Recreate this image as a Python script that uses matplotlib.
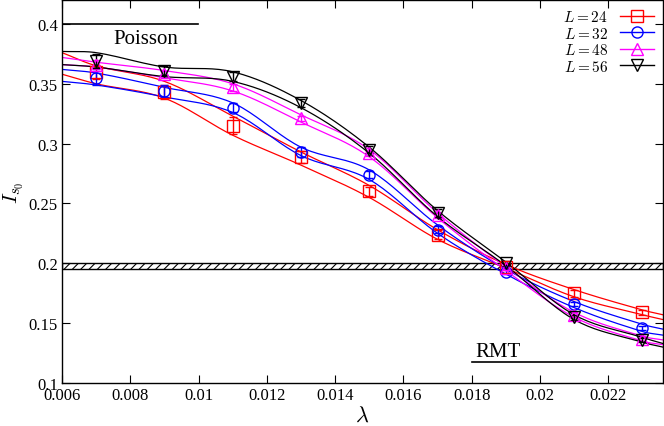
import numpy as np
import matplotlib
matplotlib.use("Agg")
import matplotlib.pyplot as plt
from matplotlib.lines import Line2D

plt.rcParams.update({"font.family": "serif", "font.serif": ["Liberation Serif", "DejaVu Serif"],
                     "mathtext.fontset": "cm", "hatch.linewidth": 0.8})

lam = [0.007, 0.009, 0.011, 0.013, 0.015, 0.017, 0.019, 0.021, 0.023]
band_x = [0.006, 0.007, 0.009, 0.011, 0.013, 0.015, 0.017, 0.019, 0.021, 0.023, 0.0236]

labels = ["$L = 24$", "$L = 32$", "$L = 48$", "$L = 56$"]
colors = ["#ff0000", "#0000ff", "#ff00ff", "#000000"]
markers = ["s", "o", "^", "v"]

I24 = [0.360, 0.343, 0.315, 0.289, 0.260, 0.224, 0.197, 0.175, 0.159]
I32 = [0.355, 0.344, 0.330, 0.293, 0.274, 0.228, 0.193, 0.166, 0.146]
I48 = [0.366, 0.358, 0.347, 0.321, 0.292, 0.240, 0.196, 0.157, 0.137]
I56 = [0.369, 0.361, 0.356, 0.334, 0.295, 0.242, 0.200, 0.155, 0.136]
E24 = [0.006, 0.006, 0.007, 0.005, 0.004, 0.004, 0.003, 0.003, 0.002]
E32 = [0.006, 0.005, 0.004, 0.004, 0.003, 0.003, 0.002, 0.002, 0.002]
E48 = [0.004, 0.003, 0.003, 0.002, 0.002, 0.002, 0.002, 0.002, 0.002]
E56 = [0.006, 0.004, 0.004, 0.003, 0.003, 0.003, 0.002, 0.002, 0.002]

U24 = [0.376, 0.365, 0.352, 0.323, 0.293, 0.265, 0.228, 0.199, 0.178, 0.161, 0.157]
D24 = [0.358, 0.350, 0.338, 0.307, 0.282, 0.255, 0.220, 0.196, 0.172, 0.157, 0.153]
U32 = [0.362, 0.359, 0.347, 0.334, 0.297, 0.278, 0.232, 0.195, 0.168, 0.149, 0.145]
D32 = [0.352, 0.349, 0.339, 0.326, 0.290, 0.270, 0.225, 0.191, 0.163, 0.143, 0.140]
U48 = [0.372, 0.368, 0.361, 0.350, 0.324, 0.295, 0.242, 0.197, 0.159, 0.139, 0.136]
D48 = [0.366, 0.364, 0.355, 0.344, 0.318, 0.289, 0.238, 0.194, 0.155, 0.135, 0.132]
U56 = [0.377, 0.376, 0.364, 0.360, 0.336, 0.297, 0.244, 0.201, 0.157, 0.138, 0.133]
D56 = [0.366, 0.364, 0.356, 0.352, 0.330, 0.292, 0.239, 0.198, 0.153, 0.134, 0.130]

poisson = 0.4
rmt = 0.1178
band_lo, band_hi = 0.195, 0.2


def smooth(x, y, n=20):
    x = np.asarray(x, float); y = np.asarray(y, float)
    xs, ys = [], []
    for i in range(len(x) - 1):
        m0 = (y[i + 1] - y[i - 1]) / (x[i + 1] - x[i - 1]) if i > 0 else (y[1] - y[0]) / (x[1] - x[0])
        m1 = (y[i + 2] - y[i]) / (x[i + 2] - x[i]) if i + 2 < len(x) else (y[-1] - y[-2]) / (x[-1] - x[-2])
        h = x[i + 1] - x[i]
        t = np.linspace(0, 1, n, endpoint=False)
        h00 = 2*t**3 - 3*t**2 + 1; h10 = t**3 - 2*t**2 + t
        h01 = -2*t**3 + 3*t**2; h11 = t**3 - t**2
        xs.append(x[i] + t * h)
        ys.append(h00*y[i] + h10*h*m0 + h01*y[i+1] + h11*h*m1)
    xs.append([x[-1]]); ys.append([y[-1]])
    return np.concatenate(xs), np.concatenate(ys)


fig = plt.figure(figsize=(6.64, 4.27), dpi=100)
ax = fig.add_axes([0.0934, 0.1007, 0.905, 0.897])

ax.axhspan(band_lo, band_hi, facecolor="white", edgecolor="black", hatch="////", lw=1.0)
ax.plot([0.006, 0.00997], [poisson, poisson], color="black", lw=1.2)
ax.plot([0.018, 0.0236], [rmt, rmt], color="black", lw=1.2)
ax.text(0.0075, 0.384, "Poisson", fontsize=15)
ax.text(0.0181, 0.1222, "RMT", fontsize=15)

series = [(I24, E24, U24, D24), (I32, E32, U32, D32), (I48, E48, U48, D48), (I56, E56, U56, D56)]
for (I, E, U, D), c, m in zip(series, colors, markers):
    for b in (U, D):
        sx, sy = smooth(band_x, b)
        ax.plot(sx, sy, color=c, lw=0.9)
    ax.errorbar(lam, I, yerr=E, fmt=m, mfc="none", mec=c, ecolor=c, ms=8, mew=1.0,
                elinewidth=1.0, capsize=3, lw=0)

handles = [Line2D([0], [0], color=c, marker=m, mfc="none", mec=c, ms=8, lw=1) for c, m in zip(colors, markers)]
ax.legend(handles, labels, loc="upper right", frameon=False, fontsize=11, handlelength=2.2,
          markerfirst=False, borderaxespad=0.2, labelspacing=0.1)

ax.set_xlim(0.006, 0.0236)
ax.set_ylim(0.1, 0.42)
ax.set_xticks([0.006, 0.008, 0.01, 0.012, 0.014, 0.016, 0.018, 0.02, 0.022])
ax.set_xticklabels(["0.006", "0.008", "0.01", "0.012", "0.014", "0.016", "0.018", "0.02", "0.022"])
ax.set_yticks([0.1, 0.15, 0.2, 0.25, 0.3, 0.35, 0.4])
ax.set_yticklabels(["0.1", "0.15", "0.2", "0.25", "0.3", "0.35", "0.4"])
ax.tick_params(direction="in", top=True, right=True, labelsize=12, length=6, pad=3)
ax.set_xlabel(r"$\lambda$", fontsize=16, labelpad=2)
ax.set_ylabel(r"$I_{s_0}$", fontsize=15, labelpad=2)
for s in ax.spines.values():
    s.set_linewidth(1.0)

fig.savefig("out.png", dpi=100)
